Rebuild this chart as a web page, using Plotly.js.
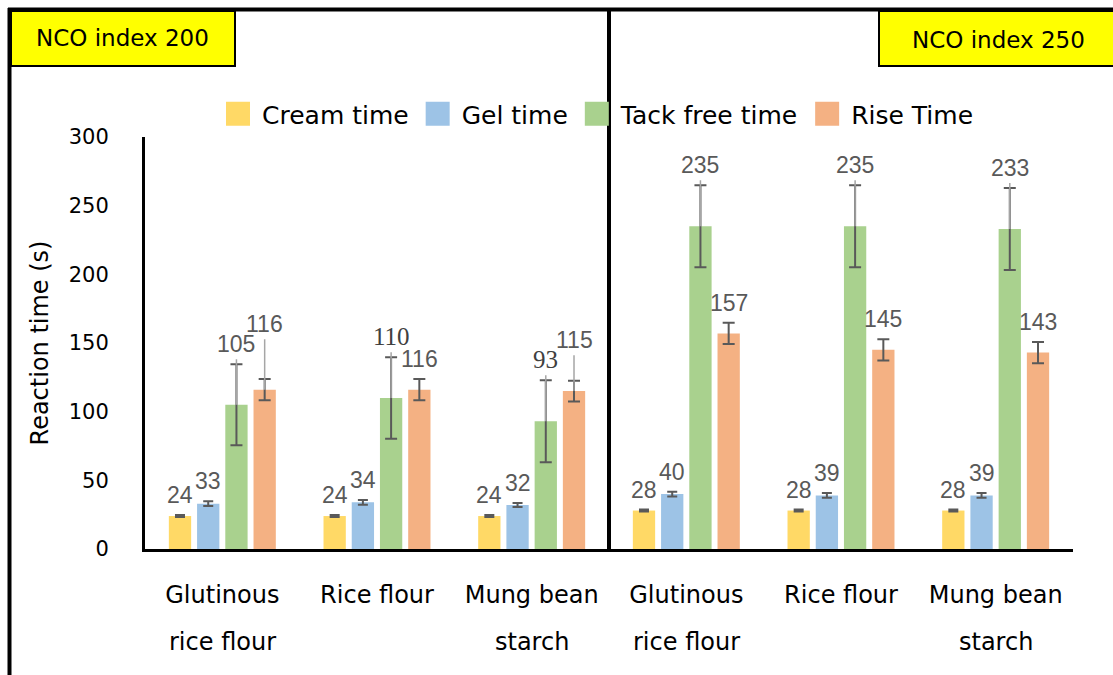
<!DOCTYPE html>
<html>
<head>
<meta charset="utf-8">
<script src="https://cdn.plot.ly/plotly-3.0.1.min.js"></script>
<style>html,body{margin:0;padding:0;background:#fff;}#chart{width:1113px;height:675px;}</style>
</head>
<body>
<div id="chart"></div>
<script>
// ---- data ----
const groups = ['NCO index 200', 'NCO index 250'];
const materials = ['Glutinous rice flour', 'Rice flour', 'Mung bean starch'];
const tickLine1 = ['Glutinous', 'Rice flour', 'Mung bean'];
const tickLine2 = ['rice flour', '', 'starch'];
const seriesNames = ['Cream time', 'Gel time', 'Tack free time', 'Rise Time'];
const creamTime    = [24, 24, 24, 28, 28, 28];
const gelTime      = [33, 34, 32, 40, 39, 39];
const tackFreeTime = [105, 110, 93, 235, 235, 233];
const riseTime     = [116, 116, 115, 157, 145, 143];
const creamErr     = [0.7, 0.7, 0.7, 0.7, 0.7, 0.7];
const gelErr       = [1.7, 1.7, 1.5, 1.7, 1.7, 1.7];
const tackFreeErr  = [29.5, 29.7, 29.8, 29.8, 29.8, 29.8];
const riseErr      = [7.7, 7.7, 7.6, 7.7, 7.7, 7.7];
const yTicks = [0, 50, 100, 150, 200, 250, 300];
const serifLabels = ['Tack free time|NCO index 200|Rice flour', 'Tack free time|NCO index 200|Mung bean starch'];

// ---- style / layout constants ----
const colors = ['#FFD966', '#9DC3E6', '#A9D18E', '#F4B183'];
const W = 1113, H = 675;
const ML = 145, MR = 40, MT = 137, MB = 126;
const PW = W - ML - MR, PH = H - MT - MB;
const YMAX = 300;
const BARGAP = 0.27, GROUPGAP = 0.21;
const LABEL_SIZE = 23, LABEL_H = 20, LABEL_GAP = 5, LEADER_MIN = 30;
const LEGEND_SQ = 12; // half side of legend swatch, px
const px2x = p => (p - ML) / PW;
const py2y = p => (H - MB - p) / PH;
const ppu = PH / YMAX;

const keys = [];
groups.forEach(g => materials.forEach(m => keys.push(g + '|' + m)));
const ticktext = [];
const line2 = [];
groups.forEach(() => { tickLine1.forEach(t => ticktext.push(t)); tickLine2.forEach(t => line2.push(t)); });

const values = [creamTime, gelTime, tackFreeTime, riseTime];
const errs = [creamErr, gelErr, tackFreeErr, riseErr];
const capW = [5, 5, 6, 6];

const traces = seriesNames.map((name, si) => ({
  type: 'bar', name: name, x: keys, y: values[si],
  marker: { color: colors[si] },
  error_y: { type: 'data', array: errs[si], visible: true, color: '#595959', thickness: 2, width: capW[si] },
  hoverinfo: 'skip'
}));

const annotations = [];
const slotPx = PW / keys.length * (1 - BARGAP) / seriesNames.length;
keys.forEach((k, ci) => {
  // place labels above error bars, lifting a label that would collide with its left neighbour
  let prev = null;
  seriesNames.forEach((name, si) => {
    const v = values[si][ci], e = errs[si][ci];
    const txt = String(v);
    const halfW = txt.length * 0.556 * LABEL_SIZE / 2;
    let dy = e * ppu + LABEL_GAP;           // px above bar top to label bottom
    let bottom = v * ppu + dy;               // px above axis
    if (prev && (halfW + prev.halfW) > slotPx && Math.abs(bottom - prev.bottom) < LABEL_H) {
      bottom = prev.bottom + LABEL_H;
      dy = bottom - v * ppu;
    }
    prev = { bottom: bottom, halfW: halfW };
    const serif = serifLabels.indexOf(name + '|' + k) >= 0;
    const font = serif ? { family: 'Liberation Serif', size: 25, color: '#404040' }
                       : { family: 'Liberation Sans', size: LABEL_SIZE, color: '#595959' };
    const xshift = (si - (seriesNames.length - 1) / 2) * slotPx;
    if (dy > LEADER_MIN) {
      annotations.push({ x: k, xref: 'x', y: v, yref: 'y', xshift: xshift,
        showarrow: true, ax: 0, ay: -dy, axref: 'pixel', ayref: 'pixel',
        arrowhead: 0, arrowwidth: 1.5, arrowcolor: '#A6A6A6', standoff: 0, startstandoff: 0,
        xanchor: 'center', yanchor: 'bottom', text: txt, font: font });
    } else {
      annotations.push({ x: k, xref: 'x', y: v, yref: 'y', xshift: xshift, yshift: dy,
        xanchor: 'center', yanchor: 'bottom', showarrow: false, text: txt, font: font });
    }
  });
});
// second line of category labels
keys.forEach((k, ci) => {
  if (line2[ci]) annotations.push({
    x: k, xref: 'x', y: py2y(642), yref: 'paper', xanchor: 'center', yanchor: 'middle',
    showarrow: false, text: line2[ci],
    font: { family: 'DejaVu Sans', size: 24, color: '#000' }
  });
});
// panel labels
annotations.push({ x: px2x(122.5), y: py2y(38), xref: 'paper', yref: 'paper', xanchor: 'center', yanchor: 'middle',
  showarrow: false, text: groups[0], font: { family: 'DejaVu Sans', size: 23, color: '#000' } });
annotations.push({ x: px2x(998), y: py2y(40), xref: 'paper', yref: 'paper', xanchor: 'center', yanchor: 'middle',
  showarrow: false, text: groups[1], font: { family: 'DejaVu Sans', size: 23, color: '#000' } });

const shapes = [
  // outer frame
  { type: 'line', xref: 'paper', yref: 'paper', x0: px2x(8), x1: px2x(1120), y0: py2y(9.5), y1: py2y(9.5), line: { color: '#000', width: 4 } },
  { type: 'line', xref: 'paper', yref: 'paper', x0: px2x(9.5), x1: px2x(9.5), y0: py2y(8), y1: py2y(680), line: { color: '#000', width: 4 } },
  // panel divider
  { type: 'line', xref: 'x', yref: 'paper', x0: 2.5, x1: 2.5, y0: 0, y1: py2y(8), line: { color: '#000', width: 4 } },
  // panel label boxes
  { type: 'rect', xref: 'paper', yref: 'paper', x0: px2x(11), x1: px2x(235), y0: py2y(11), y1: py2y(66), fillcolor: '#FFFF00', line: { color: '#000', width: 2 } },
  { type: 'rect', xref: 'paper', yref: 'paper', x0: px2x(879), x1: px2x(1120), y0: py2y(11), y1: py2y(66), fillcolor: '#FFFF00', line: { color: '#000', width: 2 } }
];

const layout = {
  width: W, height: H,
  margin: { l: ML, r: MR, t: MT, b: MB, pad: 0 },
  paper_bgcolor: '#fff', plot_bgcolor: '#fff',
  font: { family: 'DejaVu Sans', color: '#000' },
  barmode: 'group', bargap: BARGAP, bargroupgap: GROUPGAP,
  showlegend: true,
  legend: { orientation: 'h', x: px2x(214), xanchor: 'left', y: py2y(114), yanchor: 'middle',
    font: { family: 'DejaVu Sans', size: 25, color: '#000' }, bgcolor: 'rgba(0,0,0,0)', itemwidth: 38, traceorder: 'normal' },
  xaxis: { type: 'category', tickmode: 'array', tickvals: keys, ticktext: ticktext,
    range: [-0.5, keys.length - 0.5], showline: true, linecolor: '#000', linewidth: 3,
    ticks: '', showgrid: false, zeroline: false, ticklabelstandoff: 22,
    tickfont: { family: 'DejaVu Sans', size: 24, color: '#000' } },
  yaxis: { range: [0, YMAX], tickmode: 'array', tickvals: yTicks, showline: true, linecolor: '#000', linewidth: 3,
    ticks: '', showgrid: false, zeroline: false, ticklabelstandoff: 29,
    tickfont: { family: 'DejaVu Sans', size: 21, color: '#000' },
    title: { text: 'Reaction time (s)', standoff: 14, font: { family: 'DejaVu Sans', size: 24, color: '#000' } } },
  annotations: annotations,
  shapes: shapes
};

Plotly.newPlot('chart', traces, layout, { displayModeBar: false, staticPlot: true }).then(gd => {
  // enlarge the legend swatches to match the reference's big squares
  const s = LEGEND_SQ;
  gd.querySelectorAll('.legend .legendpoints path').forEach(p => {
    p.setAttribute('d', 'M' + s + ',' + s + 'H' + (-s) + 'V' + (-s) + 'H' + s + 'Z');
  });
});
</script>
</body>
</html>
